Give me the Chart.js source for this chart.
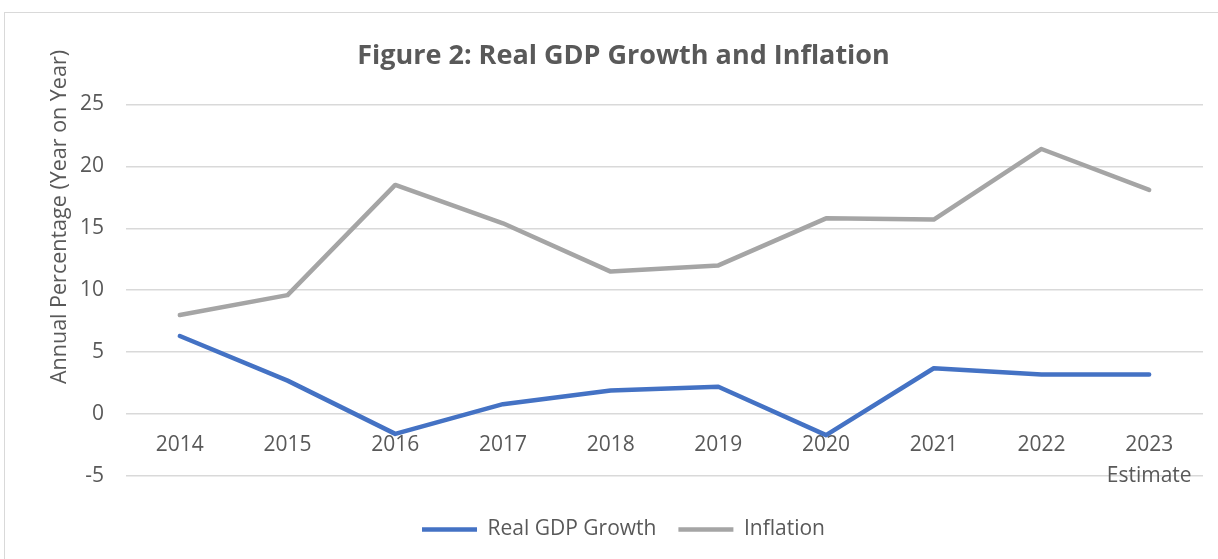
<!DOCTYPE html>
<html>
<head>
<meta charset="utf-8">
<script src="https://cdn.jsdelivr.net/npm/chart.js@4.4.1/dist/chart.umd.min.js"></script>
<style>
    html, body { margin: 0; padding: 0; background: #fff; }
    #wrap { width: 1218px; height: 559px; }
</style>
</head>
<body>
<div id="wrap"><canvas id="chartGdp"></canvas></div>
<script>
// ================================
//  Real GDP growth vs inflation, 2014-2023
// ================================
const years = ['2014', '2015', '2016', '2017', '2018', '2019', '2020', '2021', '2022', ['2023', 'Estimate']];
const gdpGrowth = [6.3, 2.7, -1.6, 0.8, 1.9, 2.2, -1.7, 3.7, 3.2, 3.2];
const inflation = [8.0, 9.6, 18.5, 15.4, 11.5, 12.0, 15.8, 15.7, 21.4, 18.1];
const yTicks = [-5, 0, 5, 10, 15, 20, 25];

const textColor = '#595959';
const gridColor = '#d9d9d9';
const fontFamily = '"Open Sans", "Liberation Sans", sans-serif';

// frame around the chart + rotated y-axis caption
const framePlugin = {
    id: 'frame',
    beforeDraw(chart) {
        const ctx = chart.ctx;
        ctx.save();
        ctx.strokeStyle = gridColor;
        ctx.lineWidth = 1;
        ctx.strokeRect(4.5, 12.5, 1400, 700);
        ctx.restore();
    },
    afterDraw(chart) {
        const ctx = chart.ctx;
        ctx.save();
        ctx.translate(60, 217);
        ctx.rotate(-Math.PI / 2);
        ctx.fillStyle = textColor;
        ctx.font = '21.5px ' + fontFamily;
        ctx.textAlign = 'center';
        ctx.textBaseline = 'middle';
        ctx.fillText('Annual Percentage (Year on Year)', 0, 0);
        ctx.restore();
    }
};

document.addEventListener("DOMContentLoaded", function () {
    const ctx = document.getElementById('chartGdp').getContext('2d');

    new Chart(ctx, {
        type: 'line',
        data: {
            labels: years,
            datasets: [{
                label: 'Real GDP Growth',
                data: gdpGrowth,
                borderColor: '#4472c4',
                backgroundColor: '#4472c4',
                borderWidth: 4.5,
                borderCapStyle: 'round',
                borderJoinStyle: 'round',
                pointRadius: 0,
                tension: 0,
                xAxisID: 'x'
            }, {
                label: 'Inflation',
                data: inflation,
                borderColor: '#a5a5a5',
                backgroundColor: '#a5a5a5',
                borderWidth: 4.5,
                borderCapStyle: 'round',
                borderJoinStyle: 'round',
                pointRadius: 0,
                tension: 0,
                xAxisID: 'x'
            }]
        },
        options: {
            responsive: true,
            maintainAspectRatio: false,
            animation: false,
            // left padding keeps title/legend centred like the original layout
            layout: { padding: { top: 0, left: 44, right: 15, bottom: 9 } },
            plugins: {
                title: {
                    display: true,
                    text: 'Figure 2: Real GDP Growth and Inflation',
                    color: textColor,
                    font: { family: fontFamily, size: 27, weight: 'bold' },
                    padding: { top: 40, bottom: 32 }
                },
                legend: {
                    position: 'bottom',
                    labels: {
                        color: textColor,
                        font: { family: fontFamily, size: 21 },
                        usePointStyle: true,
                        pointStyle: 'line',
                        pointStyleWidth: 55,
                        padding: 22
                    }
                },
                tooltip: { enabled: false }
            },
            scales: {
                x: {
                    type: 'category',
                    position: { y: 0 },
                    offset: true,
                    grid: { display: false, drawTicks: false },
                    border: { display: false },
                    ticks: {
                        color: textColor,
                        font: { family: fontFamily, size: 21, lineHeight: 1.45 },
                        padding: 16,
                        maxRotation: 0,
                        autoSkip: false
                    }
                },
                // empty strip under the plot, keeps the legend clear of the last gridline
                xGap: {
                    type: 'category',
                    position: 'bottom',
                    grid: { display: false, drawTicks: false },
                    border: { display: false },
                    ticks: { display: false },
                    afterFit: scale => { scale.height = 21; }
                },
                y: {
                    min: -5,
                    max: 25,
                    afterBuildTicks: scale => {
                        scale.ticks = yTicks.map(v => ({ value: v }));
                    },
                    afterFit: scale => { scale.width = 82; },
                    grid: { color: gridColor, lineWidth: 1.5, drawTicks: false },
                    border: { display: false },
                    ticks: {
                        color: textColor,
                        font: { family: fontFamily, size: 21 },
                        padding: 22
                    }
                }
            }
        },
        plugins: [framePlugin]
    });
});
</script>
</body>
</html>
